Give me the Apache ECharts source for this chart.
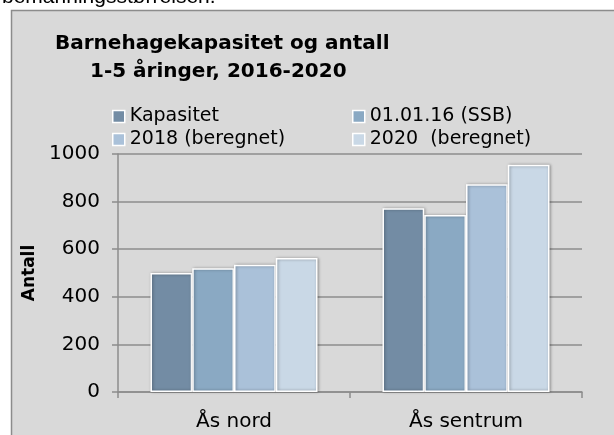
<!DOCTYPE html>
<html>
<head>
<meta charset="utf-8">
<script src="https://cdn.jsdelivr.net/npm/echarts@6/dist/echarts.min.js"></script>
<style>
  html, body { margin: 0; padding: 0; background: #fff; }
  #chart { width: 614px; height: 435px; }
</style>
</head>
<body>
<div id="chart"></div>
<script>
const categories = ['Ås nord', 'Ås sentrum'];
const seriesNames = ['Kapasitet', '01.01.16 (SSB)', '2018 (beregnet)', '2020  (beregnet)'];
const kapasitet = [500, 772];
const ssb2016 = [520, 744];
const beregnet2018 = [535, 873];
const beregnet2020 = [563, 955];
const colors = ['#738ca4', '#8aa9c3', '#aac1d9', '#c9d8e6'];

const font = '"DejaVu Sans", sans-serif';
const allValues = [kapasitet, ssb2016, beregnet2018, beregnet2020];

const legendStyle = {
  orient: 'vertical',
  top: 102,
  itemGap: 4,
  itemWidth: 12,
  itemHeight: 12,
  icon: 'rect',
  itemStyle: { borderColor: '#fff', borderWidth: 1.5 },
  textStyle: { fontSize: 19, color: '#000', fontFamily: font },
};

const myChart = echarts.init(document.getElementById('chart'));
myChart.setOption({
  animation: false,
  textStyle: { fontFamily: font },
  graphic: [
    {
      type: 'rect',
      shape: { x: 11.5, y: 10.5, width: 610, height: 430 },
      style: { fill: '#d9d9d9', stroke: '#8c8c8c', lineWidth: 1.5 },
      z: -10,
    },
    {
      type: 'text',
      left: 2,
      top: -13,
      style: { text: 'bemanningsstørrelsen.', font: '21px "Liberation Sans", Arial, sans-serif', fill: '#000' },
    },
    {
      type: 'text',
      x: 55,
      y: 44,
      style: { text: 'Barnehagekapasitet og antall', font: 'bold 20px ' + font, fill: '#000', verticalAlign: 'middle' },
    },
    {
      type: 'text',
      x: 90,
      y: 72,
      style: { text: '1-5 åringer, 2016-2020', font: 'bold 20px ' + font, fill: '#000', verticalAlign: 'middle' },
    },
  ],
  color: colors,
  legend: [
    Object.assign({ data: [seriesNames[0], seriesNames[2]], left: 107 }, legendStyle),
    Object.assign({ data: [seriesNames[1], seriesNames[3]], left: 347 }, legendStyle),
  ],
  grid: { left: 118, right: 32, top: 154, bottom: 43 },
  xAxis: {
    type: 'category',
    data: categories,
    axisLine: { lineStyle: { color: '#8c8c8c', width: 1.5 } },
    axisTick: { show: true, length: 6, lineStyle: { color: '#8c8c8c', width: 1.5 } },
    axisLabel: { fontSize: 20, color: '#000', margin: 20 },
  },
  yAxis: {
    type: 'value',
    min: 0,
    max: 1000,
    interval: 200,
    name: 'Antall',
    nameLocation: 'middle',
    nameGap: 78,
    nameTextStyle: { fontSize: 17, fontWeight: 'bold', color: '#000' },
    axisLine: { show: true, lineStyle: { color: '#8c8c8c', width: 1.5 } },
    axisTick: { show: true, length: 6, lineStyle: { color: '#8c8c8c', width: 1.5 } },
    axisLabel: { fontSize: 20, color: '#000', margin: 18, formatter: v => String(v) },
    splitLine: { lineStyle: { color: '#8c8c8c', width: 1.5 } },
  },
  series: seriesNames.map((name, i) => ({
    name,
    type: 'bar',
    data: allValues[i],
    barGap: '0%',
    barCategoryGap: '28%',
    itemStyle: {
      borderColor: '#fff',
      borderWidth: 1.5,
      shadowColor: 'rgba(0,0,0,0.35)',
      shadowBlur: 3,
      shadowOffsetX: 1,
      shadowOffsetY: 0,
    },
  })),
});
</script>
</body>
</html>
